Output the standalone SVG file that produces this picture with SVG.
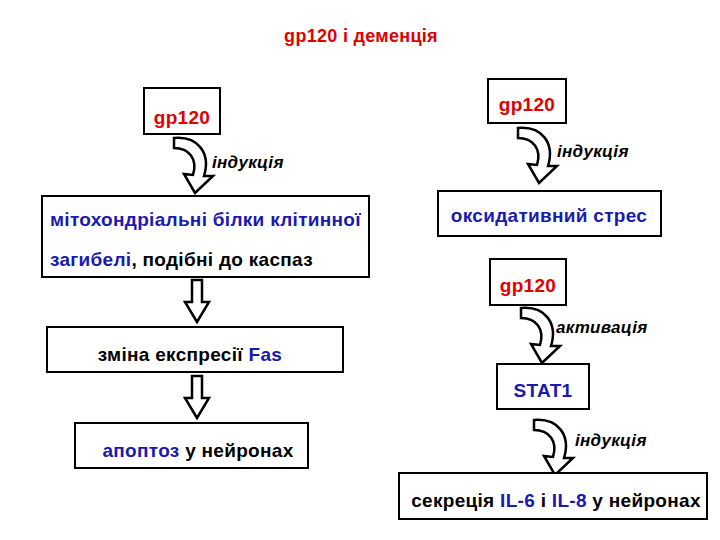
<svg xmlns="http://www.w3.org/2000/svg" width="720" height="540" viewBox="0 0 720 540">
<style>
text{font-family:"Liberation Sans",Arial,sans-serif;font-weight:bold;font-size:19px;fill:#000;letter-spacing:0.3px}
.b{fill:#fff;stroke:#000;stroke-width:2}
.r{fill:#e00000}
.u{fill:#1a1ab0}
.i{font-style:italic;font-size:17px}
.c{fill:#fff;stroke:#000;stroke-width:2.5;stroke-linejoin:miter}
</style>
<defs>
<path id="ca" class="c" d="M0,0 C24,-2 37,15 30,38 L39,38 L21,55 L10,36 L19,37 C24,21 15,10 0,10 Z"/>
<path id="da" class="c" d="M-5,0 L5,0 L5,22 L12,22 L0,42 L-12,22 L-5,22 Z"/>
</defs>
<rect width="720" height="540" fill="#fff"/>
<text x="361" y="42" text-anchor="middle" class="r" style="font-size:18px">gp120 і деменція</text>
<g id="connectors">
<use href="#ca" x="174" y="138"/>
<use href="#ca" x="518" y="128"/>
<use href="#ca" x="521" y="308"/>
<use href="#ca" x="534" y="420"/>
<use href="#da" x="197" y="280"/>
<use href="#da" x="197" y="376"/>
<text x="212" y="168" class="i">індукція</text>
<text x="557" y="157" class="i">індукція</text>
<text x="556" y="333" class="i">активація</text>
<text x="575" y="446" class="i">індукція</text>
</g>
<g id="n1"><rect class="b" x="144" y="88" width="76" height="46"/><text x="182" y="124" text-anchor="middle" class="r">gp120</text></g>
<g id="n2"><rect class="b" x="42" y="196" width="327" height="81"/><text x="50" y="226" class="u">мітохондріальні білки клітинної</text><text x="50" y="266"><tspan class="u">загибелі</tspan>, подібні до каспаз</text></g>
<g id="n3"><rect class="b" x="47" y="327" width="296" height="45"/><text x="190" y="361" text-anchor="middle">зміна експресії <tspan class="u">Fas</tspan></text></g>
<g id="n4"><rect class="b" x="75" y="423" width="233" height="45"/><text x="198" y="457" text-anchor="middle"><tspan class="u">апоптоз</tspan> у нейронах</text></g>
<g id="n5"><rect class="b" x="488" y="79" width="78" height="44"/><text x="527" y="111" text-anchor="middle" class="r">gp120</text></g>
<g id="n6"><rect class="b" x="438" y="191" width="223" height="45"/><text x="549" y="222" text-anchor="middle" class="u">оксидативний стрес</text></g>
<g id="n7"><rect class="b" x="490" y="259" width="76" height="46"/><text x="528" y="292" text-anchor="middle" class="r">gp120</text></g>
<g id="n8"><rect class="b" x="497" y="364" width="92" height="45"/><text x="543" y="397" text-anchor="middle" class="u">STAT1</text></g>
<g id="n9"><rect class="b" x="399" y="473" width="308" height="46"/><text x="556" y="507" text-anchor="middle">секреція <tspan class="u">IL-6</tspan> і <tspan class="u">IL-8</tspan> у нейронах</text></g>
</svg>
